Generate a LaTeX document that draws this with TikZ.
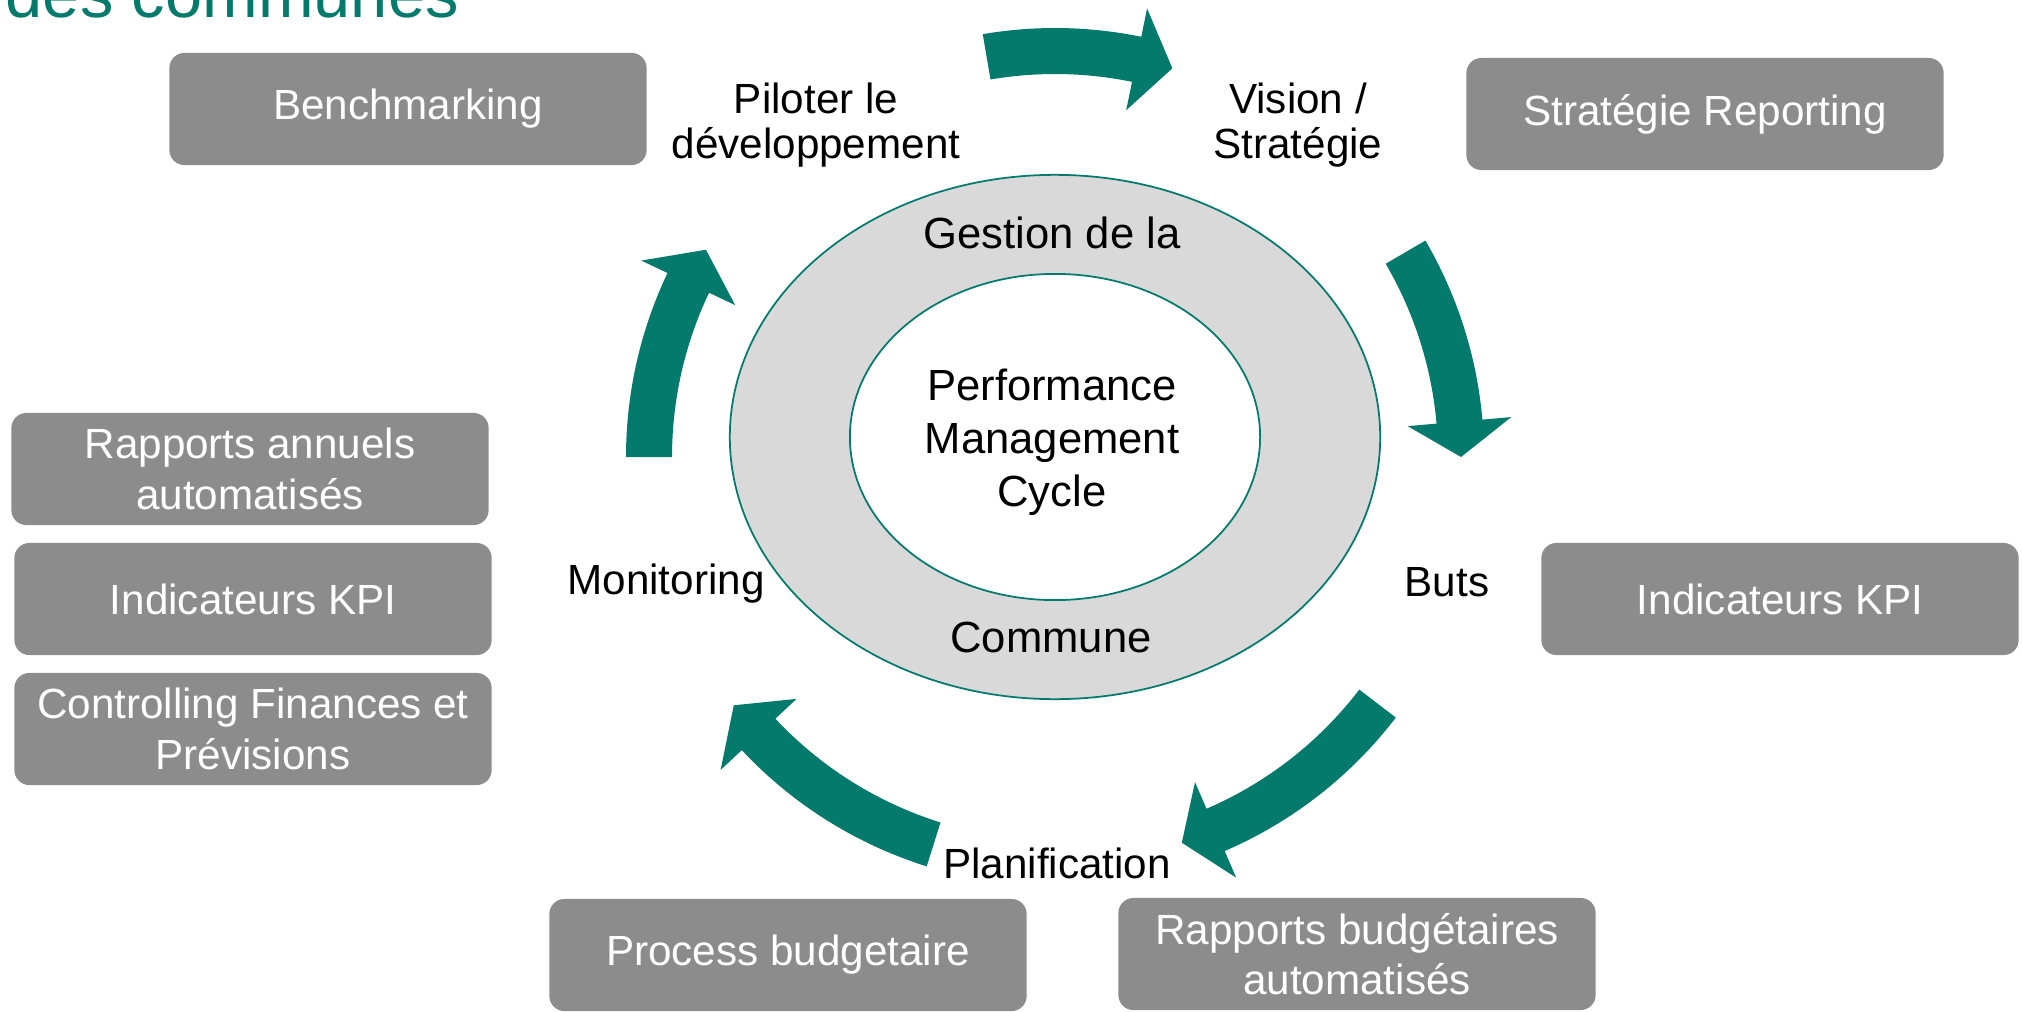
\documentclass[tikz,border=0pt]{standalone}
\usepackage{fontspec}
\setmainfont{Liberation Sans}
\usetikzlibrary{shapes.geometric}
\definecolor{cyclegreen}{RGB}{3,122,108}
\definecolor{boxgray}{RGB}{140,140,140}
\definecolor{ringgray}{RGB}{217,217,217}

% curved block arrow round (cyc): start angle, head base angle, tip angle
\newcommand{\cycarrow}[3]{%
  \fill[cyclegreen] ([shift={(cyc)}]#1:383) arc[start angle=#1, end angle=#2, radius=383]
    -- ([shift={(cyc)}]#2:354) -- ([shift={(cyc)}]#3:406) -- ([shift={(cyc)}]#2:458)
    -- ([shift={(cyc)}]#2:429) arc[start angle=#2, end angle=#1, radius=429] -- cycle;}

\begin{document}
\begin{tikzpicture}[x=0.01cm, y=0.01cm,
  toolbox/.style={rectangle, rounded corners=0.15cm, fill=boxgray, text=white,
    minimum width=4.77cm, minimum height=1.12cm, align=center, inner sep=2pt,
    font=\fontsize{12}{14.4}\selectfont},
  steplabel/.style={align=center, inner sep=0pt, font=\fontsize{12}{12.6}\selectfont},
  ringlabel/.style={align=center, inner sep=0pt, font=\fontsize{12.4}{15}\selectfont},
  ring/.style={ellipse, draw=cyclegreen, line width=0.5pt, inner sep=0pt}]

 \useasboundingbox (0,0) rectangle (2022,1011);

 \node[anchor=base west, inner sep=0pt, text=cyclegreen,
       font=\fontsize{19}{23}\selectfont] (title) at (5,993) {des communes};

 \coordinate (cyc) at (1055,554);

 \node[ring, fill=ringgray, minimum width=6.5cm, minimum height=5.24cm] (outerring) at (1055,574) {};
 \node[ring, fill=white, minimum width=4.1cm, minimum height=3.26cm] (innerring) at (1055,574) {};

 \node[ringlabel] (gestion) at (1052,778) {Gestion de la};
 \node[ringlabel] (commune) at (1051,374) {Commune};
 \node[ringlabel] (pmc) at (1052,569) {Performance\\Management\\Cycle};

 \node[steplabel] (piloter) at (816,886) {Piloter le\\développement};
 \node[steplabel] (vision) at (1298,886) {Vision /\\Stratégie};
 \node[steplabel] (buts) at (1447,429) {Buts};
 \node[steplabel] (planif) at (1057,148) {Planification};
 \node[steplabel] (monitor) at (666,427) {Monitoring};

 \cycarrow{99.7}{78.4}{73.2}
 \cycarrow{30.3}{5.0}{0}
 \cycarrow{-37.4}{-66.7}{-71.8}
 \cycarrow{-107.4}{-136.9}{-142.3}
 \cycarrow{180}{154.6}{149.3}

 \node[toolbox] (bench) at (408,902) {Benchmarking};
 \node[toolbox] (stratrep) at (1705,897) {Stratégie Reporting};
 \node[toolbox] (rapann) at (250,542) {Rapports annuels\\automatisés};
 \node[toolbox] (kpileft) at (253,412) {Indicateurs KPI};
 \node[toolbox] (ctrlfin) at (253,282) {Controlling Finances et\\Prévisions};
 \node[toolbox] (kpiright) at (1780,412) {Indicateurs KPI};
 \node[toolbox] (procbud) at (788,56) {Process budgetaire};
 \node[toolbox] (rapbud) at (1357,57) {Rapports budgétaires\\automatisés};

\end{tikzpicture}
\end{document}
